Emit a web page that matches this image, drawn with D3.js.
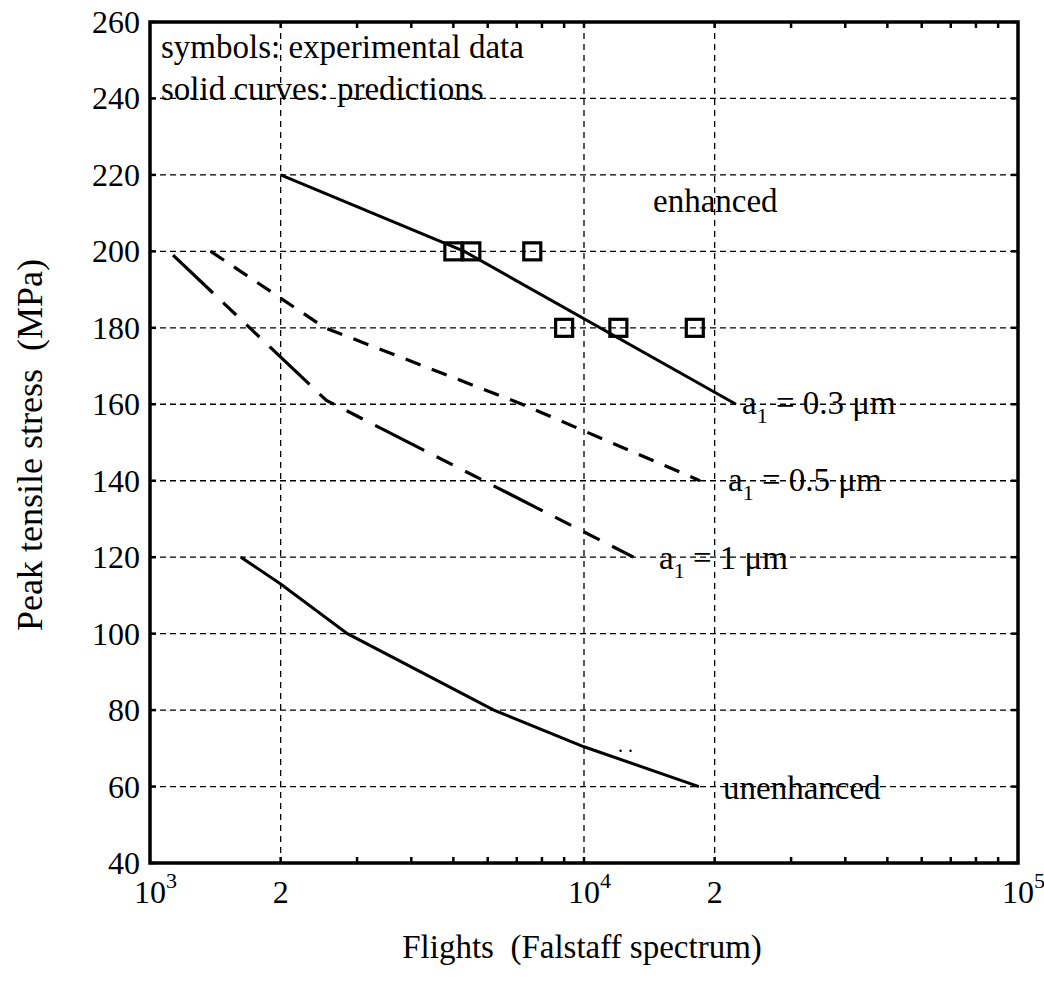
<!DOCTYPE html>
<html>
<head>
<meta charset="utf-8">
<script src="https://cdn.jsdelivr.net/npm/d3@7"></script>
<style>
  html, body { margin: 0; padding: 0; background: #fff; }
  svg { display: block; font-family: "Liberation Serif", "Times New Roman", serif; }
  text { white-space: pre; }
</style>
</head>
<body>
<svg id="chart" width="1044" height="999"></svg>
<script>
// ---- data ----
const yTicks = [40, 60, 80, 100, 120, 140, 160, 180, 200, 220, 240, 260];
const yGrid = [60, 80, 100, 120, 140, 160, 180, 200, 220, 240];
const xGrid = [2000, 10000, 20000];
const xMinor = [2000, 3000, 4000, 5000, 6000, 7000, 8000, 9000, 10000, 20000, 30000, 40000, 50000, 60000, 70000, 80000, 90000];
const xMajorLabels = [{v: 1000, base: "10", exp: "3"}, {v: 2000, base: "2", exp: ""}, {v: 10000, base: "10", exp: "4"}, {v: 20000, base: "2", exp: ""}, {v: 100000, base: "10", exp: "5"}];

const curveA03 = [[2000, 220], [5300, 200], [22400, 160]];
const curveA05 = [[1380, 200], [2530, 180], [7200, 160], [18500, 140]];
const curveA1 = [[1130, 199], [2550, 161], [13000, 120]];
const curveUnenh = [[1620, 120], [2000, 113], [2850, 100], [6200, 80], [10000, 70.4], [18400, 60]];

const expFlights = [5000, 5500, 7600, 9000, 12000, 18000];
const expStress = [200, 200, 200, 180, 180, 180];

// ---- layout ----
const svg = d3.select("#chart");
const L = 150, R = 1018, T = 22, B = 863;
const x = d3.scaleLog().domain([1e3, 1e5]).range([L, R]);
const y = d3.scaleLinear().domain([40, 260]).range([B, T]);

// grid
const grid = svg.append("g").attr("stroke", "#000").attr("stroke-width", 1.3);
grid.selectAll("line.h").data(yGrid).enter().append("line")
  .attr("x1", L).attr("x2", R).attr("y1", d => y(d)).attr("y2", d => y(d))
  .attr("stroke-dasharray", "6,4");
grid.selectAll("line.v").data(xGrid).enter().append("line")
  .attr("y1", T).attr("y2", B).attr("x1", d => x(d)).attr("x2", d => x(d))
  .attr("stroke-dasharray", "6,5");

// ticks
const ticks = svg.append("g").attr("stroke", "#000").attr("stroke-width", 2.5);
ticks.selectAll("line.b").data(xMinor).enter().append("line")
  .attr("x1", d => x(d)).attr("x2", d => x(d)).attr("y1", B).attr("y2", B - 6);
ticks.selectAll("line.t").data(xMinor).enter().append("line")
  .attr("x1", d => x(d)).attr("x2", d => x(d)).attr("y1", T).attr("y2", T + 6);
ticks.selectAll("line.l").data(yTicks).enter().append("line")
  .attr("x1", L).attr("x2", L + 6).attr("y1", d => y(d)).attr("y2", d => y(d));
ticks.selectAll("line.r").data(yTicks).enter().append("line")
  .attr("x1", R).attr("x2", R - 7).attr("y1", d => y(d)).attr("y2", d => y(d));

// frame
svg.append("rect").attr("x", L).attr("y", T).attr("width", R - L).attr("height", B - T)
  .attr("fill", "none").attr("stroke", "#000").attr("stroke-width", 3.5);

// curves
const line = d3.line().x(d => x(d[0])).y(d => y(d[1]));
const curves = svg.append("g").attr("fill", "none").attr("stroke", "#000");
curves.append("path").datum(curveA03).attr("d", line).attr("stroke-width", 3);
curves.append("path").datum(curveUnenh).attr("d", line).attr("stroke-width", 3);
curves.append("path").datum(curveA05).attr("d", line).attr("stroke-width", 3.2).attr("stroke-dasharray", "16,12");
curves.append("path").datum(curveA1).attr("d", line).attr("stroke-width", 3.2).attr("stroke-dasharray", "55,14,18,14,18,14");

// experimental squares
const sq = 17;
svg.append("g").selectAll("rect").data(expFlights).enter().append("rect")
  .attr("x", d => x(d) - sq / 2).attr("y", (d, i) => y(expStress[i]) - sq / 2)
  .attr("width", sq).attr("height", sq)
  .attr("fill", "none").attr("stroke", "#000").attr("stroke-width", 3.2);

// y tick labels
const fs = 33;
svg.append("g").selectAll("text").data(yTicks).enter().append("text")
  .attr("x", L - 10).attr("y", d => y(d) + 11)
  .attr("text-anchor", "end").attr("font-size", 32).text(d => d);

// x tick labels
const xl = svg.append("g").attr("font-size", 32);
xMajorLabels.forEach(d => {
  if (d.exp) {
    const t = xl.append("text").attr("x", x(d.v) - 16).attr("y", 903);
    t.append("tspan").text(d.base);
    t.append("tspan").attr("dy", -15).attr("font-size", 22).text(d.exp);
  } else {
    xl.append("text").attr("x", x(d.v)).attr("y", 903).attr("text-anchor", "middle").text(d.base);
  }
});

// axis titles
svg.append("text").attr("x", 582).attr("y", 958).attr("text-anchor", "middle")
  .attr("font-size", fs).text("Flights  (Falstaff spectrum)");
svg.append("text").attr("transform", "translate(42,445) rotate(-90)")
  .attr("text-anchor", "middle").attr("font-size", 36).text("Peak tensile stress  (MPa)");

// annotations
const ann = svg.append("g").attr("font-size", fs);
ann.append("text").attr("x", 161).attr("y", 58).text("symbols: experimental data");
ann.append("text").attr("x", 161).attr("y", 100).text("solid curves: predictions");
ann.append("text").attr("x", 653).attr("y", 212).text("enhanced");
ann.append("text").attr("x", 723).attr("y", 799).text("unenhanced");

function aLabel(xp, yp, val) {
  const t = ann.append("text").attr("x", xp).attr("y", yp);
  t.append("tspan").text("a");
  t.append("tspan").attr("dy", 9).attr("font-size", 22).text("1");
  t.append("tspan").attr("dy", -9).text(" = " + val + " μm");
}
aLabel(742, 414, "0.3");
aLabel(728, 491, "0.5");
aLabel(659, 569, "1");

// small specks near the unenhanced curve
svg.append("text").attr("x", 618).attr("y", 752).attr("font-size", 20).text(". .");
</script>
</body>
</html>
